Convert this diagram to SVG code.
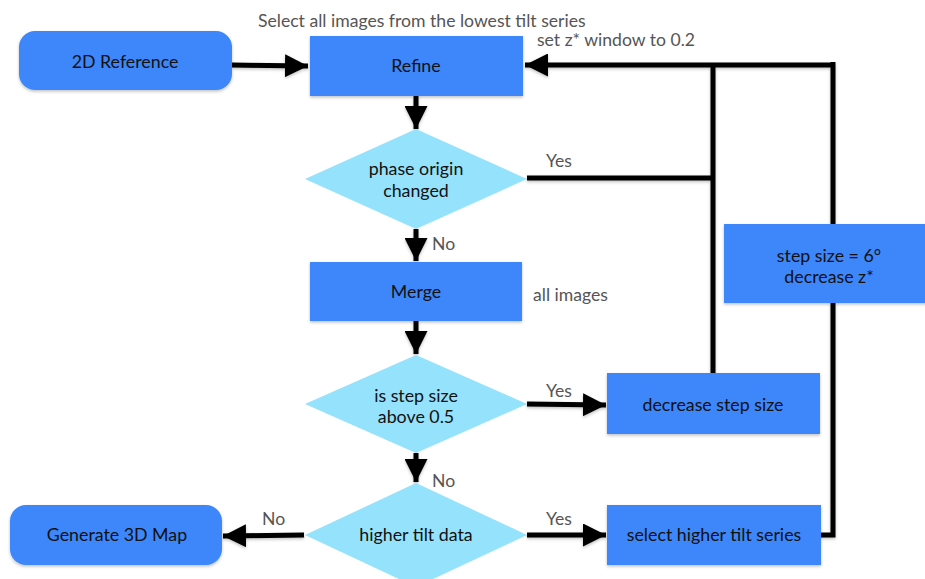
<svg xmlns="http://www.w3.org/2000/svg" width="925" height="579" viewBox="0 0 925 579">
  <defs>
    <filter id="shadow" x="-10%" y="-10%" width="120%" height="130%">
      <feDropShadow dx="0" dy="1.5" stdDeviation="1.5" flood-color="#000" flood-opacity="0.25"/>
    </filter>
    <marker id="arrow" viewBox="0 0 10 10" refX="10" refY="5" markerWidth="4.6" markerHeight="4.6" markerUnits="strokeWidth" orient="auto">
      <path d="M0,0 L10,5 L0,10 z" fill="#000"/>
    </marker>
  </defs>
  <style>
    .box { fill: #3d87fb; filter: url(#shadow); }
    .dec { fill: #94e2fc; }
    .t { font-family: "Lato", "Open Sans", sans-serif; font-size: 17.8px; fill: #111; text-anchor: middle; }
    .lbl { font-family: "Lato", "Open Sans", sans-serif; font-size: 17.6px; fill: #555; }
    .line { stroke: #000; stroke-width: 5; fill: none; }
  </style>
  <rect width="925" height="579" fill="#fff"/>

  <!-- connectors -->
  <g id="connectors" filter="url(#shadow)">
    <line class="line" x1="232" y1="65" x2="308" y2="66" marker-end="url(#arrow)"/>
    <line class="line" x1="416" y1="96" x2="416" y2="129" marker-end="url(#arrow)"/>
    <line class="line" x1="416" y1="229" x2="416" y2="261" marker-end="url(#arrow)"/>
    <line class="line" x1="416" y1="321" x2="416" y2="354" marker-end="url(#arrow)"/>
    <line class="line" x1="416" y1="453" x2="416" y2="482" marker-end="url(#arrow)"/>
    <line class="line" x1="527" y1="404" x2="606" y2="405" marker-end="url(#arrow)"/>
    <line class="line" x1="527" y1="535" x2="606" y2="535" marker-end="url(#arrow)"/>
    <line class="line" x1="304" y1="535" x2="223" y2="536" marker-end="url(#arrow)"/>
    <!-- feedback loops back to Refine -->
    <polyline class="line" points="527,178 713,178"/>
    <polyline class="line" points="713,373 713,65"/>
    <line class="line" x1="833" y1="65" x2="525" y2="65" marker-end="url(#arrow)"/>
    <polyline class="line" points="833,62 833,224"/>
    <polyline class="line" points="821,535 833,535 833,303"/>
  </g>

  <!-- nodes -->
  <g id="ref2d">
    <rect class="box" x="19" y="31" width="213" height="59" rx="16"/>
    <text class="t" x="125" y="68">2D Reference</text>
  </g>
  <g id="refine">
    <rect class="box" x="310" y="36" width="213" height="60"/>
    <text class="t" x="416" y="72">Refine</text>
  </g>
  <g id="phase">
    <polygon class="dec" points="416,129 527,179 416,229 305,179"/>
    <text class="t" x="416" y="175">phase origin</text>
    <text class="t" x="416" y="197">changed</text>
  </g>
  <g id="merge">
    <rect class="box" x="310" y="262" width="212" height="59"/>
    <text class="t" x="416" y="298">Merge</text>
  </g>
  <g id="stepcheck">
    <polygon class="dec" points="416,355 527,404 416,453 305,404"/>
    <text class="t" x="416" y="402">is step size</text>
    <text class="t" x="416" y="423">above 0.5</text>
  </g>
  <g id="decstep">
    <rect class="box" x="607" y="373" width="213" height="61"/>
    <text class="t" x="713" y="411">decrease step size</text>
  </g>
  <g id="stepsize6">
    <rect class="box" x="724" y="224" width="205" height="79"/>
    <text class="t" x="829" y="262">step size = 6°</text>
    <text class="t" x="829" y="283">decrease z*</text>
  </g>
  <g id="tiltcheck">
    <polygon class="dec" points="416,483 527,535 416,587 305,535"/>
    <text class="t" x="416" y="541">higher tilt data</text>
  </g>
  <g id="map3d">
    <rect class="box" x="10" y="505" width="212" height="60" rx="16"/>
    <text class="t" x="117" y="541">Generate 3D Map</text>
  </g>
  <g id="highertilt">
    <rect class="box" x="607" y="505" width="214" height="60"/>
    <text class="t" x="714" y="541">select higher tilt series</text>
  </g>

  <!-- edge and side labels -->
  <g id="labels">
    <text class="lbl" x="258" y="27">Select all images from the lowest tilt series</text>
    <text class="lbl" x="537" y="46">set z* window to 0.2</text>
    <text class="lbl" x="546" y="167">Yes</text>
    <text class="lbl" x="432" y="250">No</text>
    <text class="lbl" x="533" y="301">all images</text>
    <text class="lbl" x="546" y="397">Yes</text>
    <text class="lbl" x="432" y="487">No</text>
    <text class="lbl" x="262" y="525">No</text>
    <text class="lbl" x="546" y="525">Yes</text>
  </g>
</svg>
